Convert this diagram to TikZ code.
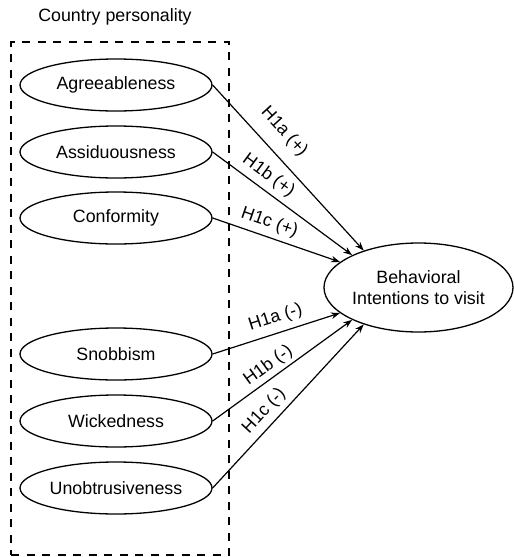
\documentclass[tikz,border=0pt]{standalone}
\usepackage{fontspec}
\setmainfont{Liberation Sans}
\usepackage{tikz}
\usetikzlibrary{shapes.geometric, arrows.meta, positioning}
\tikzset{
    traitbox/.style={ellipse, draw, line width=1.3pt, inner sep=0pt, minimum width=192pt,
        minimum height=52pt, font=\fontsize{17.8pt}{21pt}\selectfont},
    intentbox/.style={ellipse, draw, line width=1.3pt, inner sep=0pt, minimum width=189pt,
        minimum height=89pt, align=center, font=\fontsize{17.8pt}{21.5pt}\selectfont},
    groupbox/.style={rectangle, draw, line width=2pt, dash pattern=on 8pt off 7.5pt,
        minimum width=218pt, minimum height=513pt},
    hyparrow/.style={-{Stealth[length=9pt, width=6.5pt]}, line width=1.2pt},
    hyplabel/.style={sloped, above=2pt, font=\fontsize{17.8pt}{21pt}\selectfont},
}
\begin{document}
\begin{tikzpicture}[x=1pt, y=-1pt]
    \useasboundingbox (0,0) rectangle (514,557);
    \node[groupbox] (group) at (120,298.5) {};
    \node[font=\fontsize{17.8pt}{21pt}\selectfont] (title) at (115,17) {Country personality};

    \node[traitbox] (agree) at (116,85) {Agreeableness};
    \node[traitbox] (assid) at (116,152) {Assiduousness};
    \node[traitbox] (conf) at (116,218) {Conformity};
    \node[traitbox] (snob) at (116,354) {Snobbism};
    \node[traitbox] (wick) at (116,421) {Wickedness};
    \node[traitbox] (unob) at (116,488) {Unobtrusiveness};

    \node[intentbox] (intent) at (418.5,287.5) {Behavioral\\Intentions to visit};

    \draw[hyparrow] (agree.east) -- (intent.146) node[hyplabel, pos=0.37, above=9pt] {H1a (+)};
    \draw[hyparrow] (assid.east) -- (intent.154) node[hyplabel, pos=0.34] {H1b (+)};
    \draw[hyparrow] (conf.east) -- (intent.162) node[hyplabel, pos=0.41] {H1c (+)};
    \draw[hyparrow] (snob.east) -- (intent.198) node[hyplabel, pos=0.53, above=3pt] {H1a (-)};
    \draw[hyparrow] (wick.east) -- (intent.206) node[hyplabel, pos=0.45, above=0pt] {H1b (-)};
    \draw[hyparrow] (unob.east) -- (intent.214) node[hyplabel, pos=0.41] {H1c (-)};
\end{tikzpicture}
\end{document}
